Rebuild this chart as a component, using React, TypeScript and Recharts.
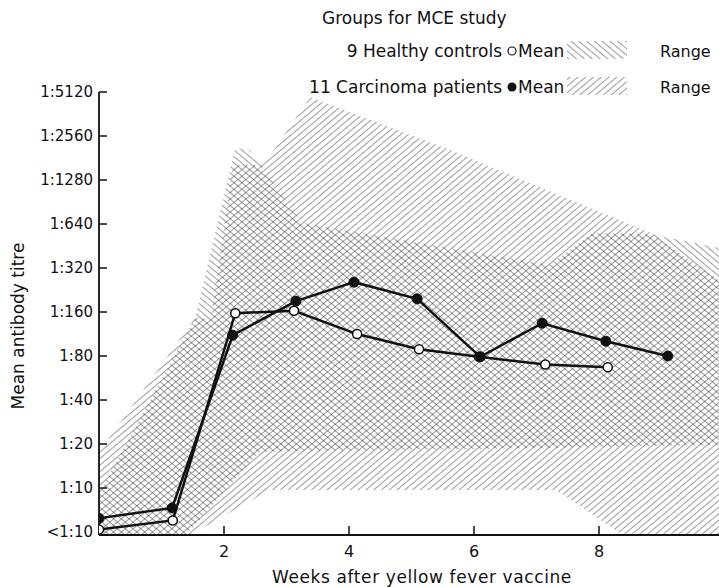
import React from 'react';
import { ComposedChart, Area, Line, XAxis, YAxis } from 'recharts';

// titre values are reciprocal dilutions (160 = 1:160); 5 stands for "<1:10"
const titreTicks = [5, 10, 20, 40, 80, 160, 320, 640, 1280, 2560, 5120];
const weekTicks = [2, 4, 6, 8];

const healthyMean = [
  { week: 0, titre: 5.2 },
  { week: 1.18, titre: 6.0 },
  { week: 2.18, titre: 157 },
  { week: 3.12, titre: 163 },
  { week: 4.13, titre: 113 },
  { week: 5.12, titre: 89 },
  { week: 6.08, titre: 79 },
  { week: 7.14, titre: 70 },
  { week: 8.14, titre: 67 },
];

const carcinomaMean = [
  { week: 0, titre: 6.2 },
  { week: 1.17, titre: 7.3 },
  { week: 2.14, titre: 111 },
  { week: 3.15, titre: 190 },
  { week: 4.08, titre: 256 },
  { week: 5.09, titre: 197 },
  { week: 6.1, titre: 79 },
  { week: 7.09, titre: 134 },
  { week: 8.11, titre: 101 },
  { week: 9.1, titre: 80 },
];

const healthyRange = [
  { week: 0, lo: 4.8, hi: 9.2 },
  { week: 1.39, lo: 4.8, hi: 112 },
  { week: 1.54, lo: 5.6, hi: 146 },
  { week: 2.18, lo: 11.5, hi: 2120 },
  { week: 2.42, lo: 15, hi: 2050 },
  { week: 2.56, lo: 17.6, hi: 1680 },
  { week: 3.25, lo: 17.9, hi: 650 },
  { week: 7.2, lo: 18.8, hi: 335 },
  { week: 7.9, lo: 19.1, hi: 555 },
  { week: 8.83, lo: 19.4, hi: 546 },
  { week: 9.92, lo: 19.7, hi: 438 },
];

const carcinomaRange = [
  { week: 0, lo: 4.8, hi: 17.6 },
  { week: 1.46, lo: 4.8, hi: 132 },
  { week: 1.54, lo: 5.0, hi: 148 },
  { week: 1.78, lo: 5.7, hi: 141 },
  { week: 2.02, lo: 6.5, hi: 681 },
  { week: 2.14, lo: 7.0, hi: 1620 },
  { week: 2.62, lo: 9.1, hi: 1620 },
  { week: 2.74, lo: 9.7, hi: 1900 },
  { week: 3.38, lo: 9.7, hi: 4730 },
  { week: 5.62, lo: 9.7, hi: 2050 },
  { week: 7.31, lo: 9.7, hi: 1030 },
  { week: 8.37, lo: 4.8, hi: 671 },
  { week: 8.83, lo: 4.8, hi: 555 },
  { week: 9.92, lo: 4.8, hi: 265 },
];

const FONT = '"DejaVu Sans", sans-serif';
const INK = '#111';

const TitreTick = (props: any) => {
  const { x, y, payload } = props;
  const v = payload.value;
  const label = v === 5 ? '<1:10' : `1:${v}`;
  return (
    <g>
      <text x={x} y={y} dy={5} textAnchor="end" fontSize={15} fontFamily={FONT} fill={INK}>
        {label}
      </text>
      {v !== 5 && <line x1={x + 6} x2={x + 14} y1={y} y2={y} stroke={INK} strokeWidth={1.5} />}
    </g>
  );
};

const WeekTick = (props: any) => {
  const { x, y, payload } = props;
  return (
    <g>
      <line x1={x} x2={x} y1={y} y2={y - 9} stroke={INK} strokeWidth={1.5} />
      <text x={x} y={y + 22} textAnchor="middle" fontSize={16} fontFamily={FONT} fill={INK}>
        {payload.value}
      </text>
    </g>
  );
};

export default function App() {
  return (
    <div style={{ position: 'absolute', left: 0, top: 0, width: 719, height: 587, background: '#fff' }}>
      <svg width={0} height={0} style={{ position: 'absolute' }}>
        <defs>
          <pattern id="hatchHealthy" width="5" height="5" patternUnits="userSpaceOnUse" patternTransform="rotate(-50)">
            <line x1="0" y1="0" x2="0" y2="5" stroke="#222" strokeWidth="0.9" />
          </pattern>
          <pattern id="hatchCarcinoma" width="5" height="5" patternUnits="userSpaceOnUse" patternTransform="rotate(50)">
            <line x1="0" y1="0" x2="0" y2="5" stroke="#222" strokeWidth="0.9" />
          </pattern>
        </defs>
      </svg>
      <ComposedChart width={719} height={587} margin={{ top: 92, right: 0, left: 0, bottom: 0 }}>
        <XAxis
          type="number"
          dataKey="week"
          domain={[0, 9.92]}
          ticks={weekTicks}
          allowDataOverflow
          height={52}
          tickSize={0}
          tickMargin={0}
          tick={<WeekTick />}
          tickLine={false}
          axisLine={{ stroke: INK, strokeWidth: 1.8 }}
        />
        <YAxis
          type="number"
          scale="log"
          domain={[4.77, 5120]}
          ticks={titreTicks}
          allowDataOverflow
          width={99}
          tickSize={0}
          tickMargin={6}
          tick={<TitreTick />}
          tickLine={false}
          axisLine={{ stroke: INK, strokeWidth: 1.8 }}
        />
        <Area
          data={healthyRange}
          dataKey={(d: any) => [d.lo, d.hi]}
          type="linear"
          stroke="none"
          fill="url(#hatchHealthy)"
          fillOpacity={1}
          isAnimationActive={false}
        />
        <Area
          data={carcinomaRange}
          dataKey={(d: any) => [d.lo, d.hi]}
          type="linear"
          stroke="none"
          fill="url(#hatchCarcinoma)"
          fillOpacity={1}
          isAnimationActive={false}
        />
        <Line
          data={healthyMean}
          dataKey="titre"
          type="linear"
          stroke={INK}
          strokeWidth={2.5}
          dot={{ r: 4.5, fill: '#fff', stroke: INK, strokeWidth: 1.5 }}
          isAnimationActive={false}
        />
        <Line
          data={carcinomaMean}
          dataKey="titre"
          type="linear"
          stroke={INK}
          strokeWidth={2.5}
          dot={{ r: 5, fill: INK, stroke: INK, strokeWidth: 1 }}
          isAnimationActive={false}
        />
      </ComposedChart>
      <svg width={719} height={587} style={{ position: 'absolute', left: 0, top: 0, pointerEvents: 'none' }}>
        <g fontFamily={FONT} fill={INK} fontSize={17}>
          <text x={322} y={24}>Groups for MCE study</text>
          <text x={502} y={57} textAnchor="end">9 Healthy controls</text>
          <circle cx={512} cy={51} r={4} fill="#fff" stroke={INK} strokeWidth={1.2} />
          <text x={518} y={57}>Mean</text>
          <rect x={567} y={41} width={60} height={18} fill="url(#hatchHealthy)" />
          <text x={660} y={57} fontSize={16}>Range</text>
          <text x={502} y={93} textAnchor="end">11 Carcinoma patients</text>
          <circle cx={512} cy={87} r={4.5} fill={INK} />
          <text x={518} y={93}>Mean</text>
          <rect x={567} y={77} width={60} height={18} fill="url(#hatchCarcinoma)" />
          <text x={660} y={93} fontSize={16}>Range</text>
          <text x={422} y={583} textAnchor="middle" letterSpacing={0.6}>Weeks after yellow fever vaccine</text>
          <text x={24} y={326} textAnchor="middle" transform="rotate(-90 24 326)">Mean antibody titre</text>
        </g>
      </svg>
    </div>
  );
}
